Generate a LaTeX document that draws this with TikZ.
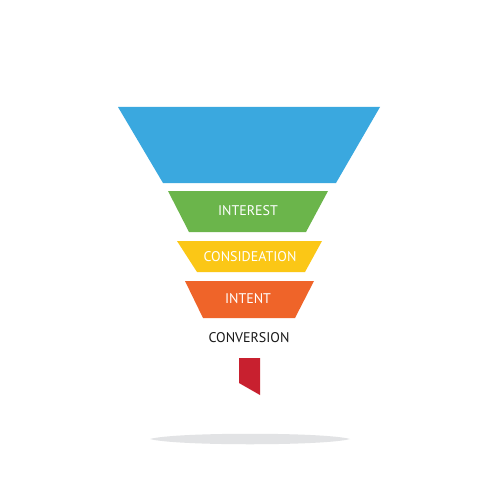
\documentclass[tikz,border=0pt]{standalone}
\usepackage{fontspec}
\setmainfont{PT Sans}
\definecolor{fblue}{HTML}{3AA8DF}
\definecolor{fgreen}{HTML}{6BB54B}
\definecolor{fyellow}{HTML}{FBC716}
\definecolor{forange}{HTML}{EF6429}
\definecolor{fred}{HTML}{C8202F}
\definecolor{fshadow}{HTML}{E2E3E5}
\tikzset{
  lbl/.style={text=white, font=\fontsize{14}{16}\selectfont, inner sep=0pt},
  dlbl/.style={text=black!90, font=\fontsize{14}{16}\selectfont, inner sep=0pt},
}
\begin{document}
\begin{tikzpicture}[x=1pt,y=-1pt]
\useasboundingbox[fill=white] (0,0) rectangle (500,500);
% shadow
\fill[fshadow] (150,439) .. controls (175,432) and (325,432) .. (350,439)
  .. controls (325,446) and (175,446) .. (150,439) -- cycle;
% funnel stages
\fill[fblue] (118,107) -- (380,107) -- (336,183) -- (163,183) -- cycle;
\fill[fgreen] (168,191) -- (328,191) -- (306,232) -- (189,232) -- cycle;
\fill[fyellow] (177,241) -- (322,241) -- (305,272) -- (197,272) -- cycle;
\fill[forange] (185,281) -- (314,281) -- (295,318) -- (203,318) -- cycle;
\fill[fred] (239,358) -- (260,358) -- (260,395) -- (239,383) -- cycle;
% labels
\node[lbl] (interest) at (248,211) {INTEREST};
\node[lbl] (consid) at (250,257) {CONSIDEATION};
\node[lbl] (intent) at (248,299) {INTENT};
\node[dlbl] (conv) at (249,338) {CONVERSION};
\end{tikzpicture}
\end{document}
